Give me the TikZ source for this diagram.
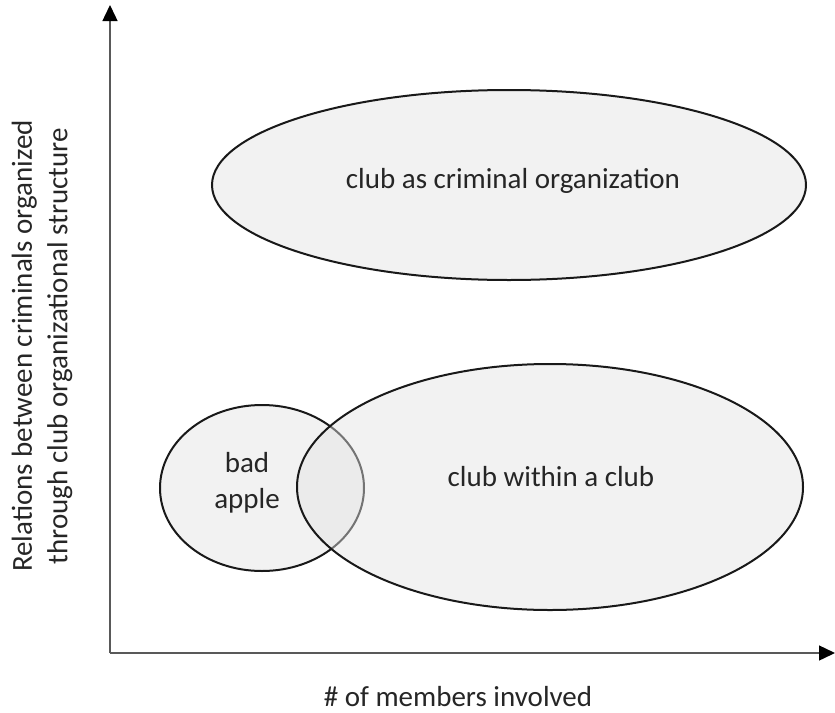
\documentclass[tikz,border=0pt]{standalone}
\usepackage{fontspec}
\setmainfont{Carlito}
\usetikzlibrary{arrows.meta}

\tikzset{
  axisline/.style={line width=0.7pt, color=black!65, -{Triangle[length=8pt,width=7.5pt,color=black]}},
  blob/.style={line width=1pt, color=black!90, fill=black!5},
  overblob/.style={line width=1pt, draw=black!90, fill=black!11, fill opacity=0.45},
  lbl/.style={font=\fontsize{14.5}{17.8}\selectfont, text=black!85, align=center}
}

\begin{document}
\begin{tikzpicture}[x=0.5pt,y=-0.5pt]
  %%%%% START %%%%%
  \useasboundingbox (0,0) rectangle (835,712);

  \coordinate (origin) at (110,653);
  \coordinate (ytop) at (110,5);
  \coordinate (xend) at (835,653);
  \draw[axisline] (origin) -- (ytop);
  \draw[axisline] (origin) -- (xend);

  \draw[blob] (509,185) ellipse (297 and 95);
  \draw[blob] (262,488) ellipse (102 and 83);
  \draw[overblob] (550,487) ellipse (253 and 123);

  \node[lbl] (crimorg) at (513,181) {club as criminal organization};
  \node[lbl] (badapple) at (247,483) {bad\\apple};
  \node[lbl] (clubclub) at (551,477) {club within a club};

  \node[lbl, rotate=90] (ylabel) at (42,346)
    {Relations between criminals organized\\through club organizational structure};
  \node[lbl] (xlabel) at (458,697) {\# of members involved};
  %%%%% END %%%%%
\end{tikzpicture}
\end{document}
